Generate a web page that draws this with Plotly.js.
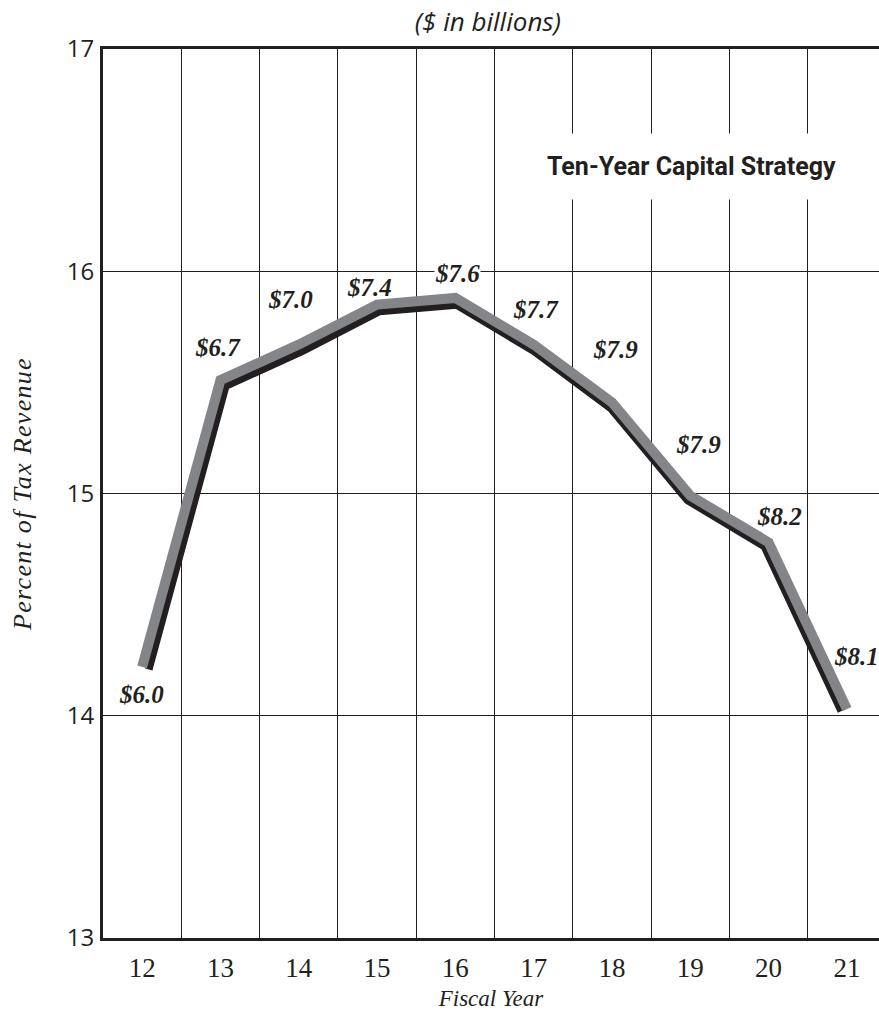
<!DOCTYPE html>
<html>
<head>
<meta charset="utf-8">
<script src="https://cdn.plot.ly/plotly-3.0.1.min.js"></script>
<style>html,body{margin:0;padding:0;background:#fff;}#chart{width:879px;height:1017px;}</style>
</head>
<body>
<div id="chart"></div>
<script>
// ---- data ----
const fiscalYears = ['12','13','14','15','16','17','18','19','20','21'];
const pctOfTaxRevenue = [14.22, 15.51, 15.67, 15.85, 15.88, 15.67, 15.41, 14.99, 14.78, 14.03];
const dollarLabels = ['$6.0','$6.7','$7.0','$7.4','$7.6','$7.7','$7.9','$7.9','$8.2','$8.1'];
const yTickVals = [13, 14, 15, 16, 17];

// ---- layout helpers (positions / styles) ----
const labelShiftX = [-1, -2, -8, -8, 2, 2, 4, 8, 11, 10];
const labelShiftY = [-28, 33, 45, 17, 24, 35, 53, 51, 26, 53];
const ink = '#231f20';
const M = {l: 103, r: 0, t: 49, b: 79};
const W = 879, H = 1017;
const plotW = W - M.l - M.r, plotH = H - M.t - M.b;
const xRange = [-0.5, 9.41];
const yRange = [13, 17];
const sx = plotW / (xRange[1] - xRange[0]);
const sy = plotH / (yRange[1] - yRange[0]);

// shadow line: same data drawn through a slightly compressed, offset pair of axes
const shX = {scale: 0.9825, offset: 9.16};   // black_px = offset + scale * gray_px
const shY = {scale: 0.988, offset: 10.6};
const x2r0 = (M.l - shX.offset - shX.scale * M.l) / (shX.scale * sx) + xRange[0];
const x2Range = [x2r0, x2r0 + plotW / (shX.scale * sx)];
const y2r1 = (shY.offset + shY.scale * M.t - M.t) / (shY.scale * sy) + yRange[1];
const y2Range = [y2r1 - plotH / (shY.scale * sy), y2r1];

const shadow = {
  x: fiscalYears, y: pctOfTaxRevenue, type: 'scatter', mode: 'lines',
  xaxis: 'x2', yaxis: 'y2',
  line: {color: ink, width: 7.5}, hoverinfo: 'skip', showlegend: false
};
const main = {
  x: fiscalYears, y: pctOfTaxRevenue, type: 'scatter', mode: 'lines',
  xaxis: 'x3', yaxis: 'y3',
  line: {color: '#838588', width: 10}, showlegend: false
};

const annotations = dollarLabels.map((t, i) => ({
  x: i, y: pctOfTaxRevenue[i], xref: 'x', yref: 'y',
  text: t, showarrow: false, xshift: labelShiftX[i], yshift: labelShiftY[i],
  xanchor: 'center', yanchor: 'middle',
  font: {family: 'Liberation Serif, serif', size: 25, color: ink, weight: 'bold', style: 'italic'},
  bgcolor: i === 4 ? '#ffffff' : 'rgba(0,0,0,0)', borderpad: 0
}));
annotations.push({
  xref: 'paper', yref: 'paper', x: 0.7586, y: 0.8676,
  xanchor: 'center', yanchor: 'middle', showarrow: false,
  text: 'Ten-Year Capital Strategy',
  font: {family: 'Liberation Sans Narrow, Roboto, sans-serif', size: 25, color: ink, weight: 'bold'},
  bgcolor: '#ffffff', borderpad: 18
});

const hiddenAxis = (r, extra) => Object.assign({
  range: r, visible: false, showgrid: false, zeroline: false, fixedrange: true
}, extra);

const layout = {
  width: W, height: H,
  margin: M,
  paper_bgcolor: '#ffffff', plot_bgcolor: '#ffffff',
  showlegend: false,
  title: {
    text: '($ in billions)', x: 0.555, xanchor: 'center', y: 0.978, yanchor: 'middle',
    font: {family: 'Open Sans, sans-serif', size: 26, color: ink, style: 'italic'}
  },
  xaxis: {
    type: 'category', categoryorder: 'array', categoryarray: fiscalYears,
    range: xRange, tickson: 'boundaries', ticks: '',
    showgrid: true, gridcolor: ink, gridwidth: 1,
    showline: true, linecolor: ink, linewidth: 3, mirror: true,
    tickfont: {family: 'Liberation Serif, serif', size: 27, color: ink},
    ticklabelstandoff: 4,
    title: {text: 'Fiscal Year', standoff: 8,
      font: {family: 'Liberation Serif, serif', size: 23, color: ink, style: 'italic'}},
    fixedrange: true
  },
  yaxis: {
    range: yRange, tickvals: yTickVals, ticks: '',
    showgrid: true, gridcolor: ink, gridwidth: 1, zeroline: false,
    showline: true, linecolor: ink, linewidth: 3, mirror: false,
    tickfont: {family: 'Open Sans, sans-serif', size: 24, color: ink},
    ticklabelstandoff: 1,
    title: {text: '<span style="letter-spacing:1.3px">Percent of Tax Revenue</span>', standoff: 28,
      font: {family: 'Liberation Serif, serif', size: 26, color: ink, style: 'italic'}},
    fixedrange: true
  },
  xaxis2: hiddenAxis(x2Range,
    {type: 'category', categoryorder: 'array', categoryarray: fiscalYears, overlaying: 'x', anchor: 'y2'}),
  yaxis2: hiddenAxis(y2Range, {overlaying: 'y', anchor: 'x2'}),
  xaxis3: hiddenAxis(xRange,
    {type: 'category', categoryorder: 'array', categoryarray: fiscalYears, overlaying: 'x', anchor: 'y3'}),
  yaxis3: hiddenAxis(yRange, {overlaying: 'y', anchor: 'x3'}),
  annotations: annotations
};

Plotly.newPlot('chart', [shadow, main], layout, {displayModeBar: false, staticPlot: true});
</script>
</body>
</html>
